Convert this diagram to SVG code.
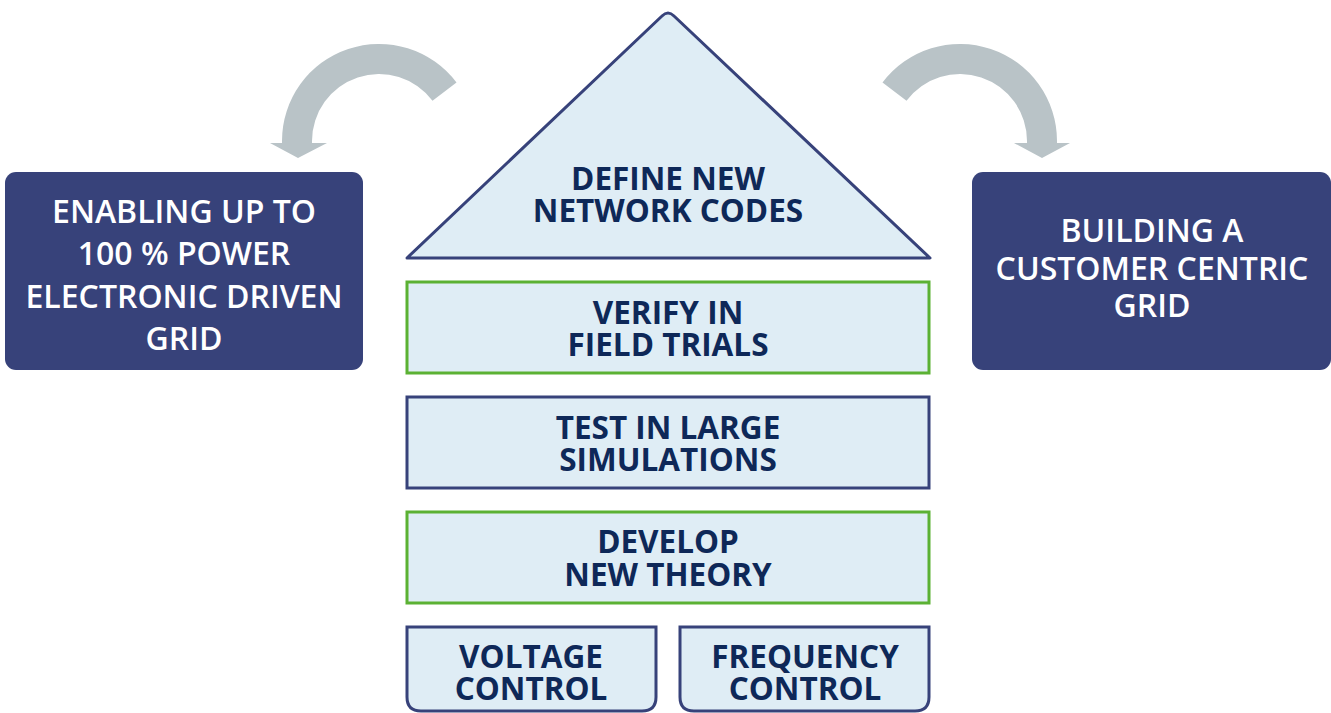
<svg xmlns="http://www.w3.org/2000/svg" width="1331" height="713" viewBox="0 0 1331 713">
<style>
.dark{fill:#37427A}
.wt{font-family:"Open Sans","Liberation Sans",sans-serif;font-weight:600;fill:#ffffff;text-anchor:middle;font-size:32px}
.nt{font-family:"Open Sans","Liberation Sans",sans-serif;font-weight:700;fill:#0E2858;text-anchor:middle;font-size:31.5px}
.lb{fill:#DFEDF5;stroke-width:3}
.gr{stroke:#5BB133}
.bl{stroke:#37427A}
.arr{fill:#B9C3C7}
</style>
<rect width="1331" height="713" fill="#ffffff"/>
<g id="connectors">
<path class="arr" d="M456.5 82.6 A97 97 0 0 0 282 141 L282 143 L270 143 L298 158 L327 143 L312 143 L312 141 A67 67 0 0 1 432.5 100.7 Z"/>
<path class="arr" d="M882.5 82.6 A97 97 0 0 1 1057 141 L1057 143 L1070 143 L1042 158 L1014 143 L1027 143 L1027 141 A67 67 0 0 0 906.5 100.7 Z"/>
</g>
<g id="left-goal">
<rect class="dark" x="5" y="172" width="358" height="198" rx="11"/>
<text class="wt" x="184" y="223">ENABLING UP TO</text>
<text class="wt" x="184" y="265">100 % POWER</text>
<text class="wt" x="184" y="308">ELECTRONIC DRIVEN</text>
<text class="wt" x="184" y="350">GRID</text>
</g>
<g id="right-goal">
<rect class="dark" x="972" y="172" width="359" height="198" rx="11"/>
<text class="wt" x="1152" y="242">BUILDING A</text>
<text class="wt" x="1152" y="280">CUSTOMER CENTRIC</text>
<text class="wt" x="1152" y="317">GRID</text>
</g>
<g id="define">
<path class="lb bl" stroke-width="3.5" stroke-linejoin="round" d="M407 258 L662 16 Q668 10 674 16 L930 258 Z"/>
<text class="nt" x="668" y="190">DEFINE NEW</text>
<text class="nt" x="668" y="222">NETWORK CODES</text>
</g>
<g id="verify">
<rect class="lb gr" x="407" y="282" width="522" height="91"/>
<text class="nt" x="668" y="324">VERIFY IN</text>
<text class="nt" x="668" y="356">FIELD TRIALS</text>
</g>
<g id="test">
<rect class="lb bl" x="407" y="397" width="522" height="91"/>
<text class="nt" x="668" y="439">TEST IN LARGE</text>
<text class="nt" x="668" y="471">SIMULATIONS</text>
</g>
<g id="develop">
<rect class="lb gr" x="407" y="512" width="522" height="91"/>
<text class="nt" x="668" y="553">DEVELOP</text>
<text class="nt" x="668" y="586">NEW THEORY</text>
</g>
<g id="voltage">
<path class="lb bl" d="M407 627 L656 627 L656 697 Q656 711 642 711 L421 711 Q407 711 407 697 Z"/>
<text class="nt" x="531" y="668">VOLTAGE</text>
<text class="nt" x="531" y="700">CONTROL</text>
</g>
<g id="frequency">
<path class="lb bl" d="M680 627 L929 627 L929 697 Q929 711 915 711 L694 711 Q680 711 680 697 Z"/>
<text class="nt" x="805" y="668">FREQUENCY</text>
<text class="nt" x="805" y="700">CONTROL</text>
</g>
</svg>
